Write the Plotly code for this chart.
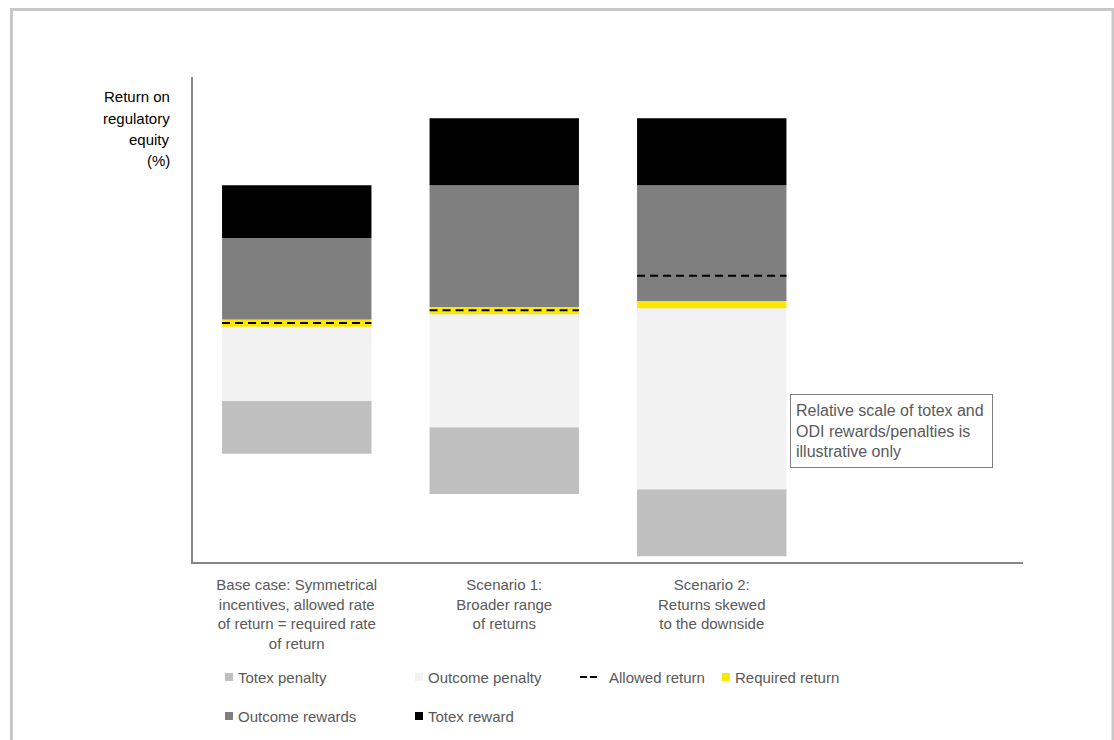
import plotly.graph_objects as go

# Illustrative return-on-equity ranges (arbitrary units, no scale shown)
scenarios = [
    "Base case: Symmetrical<br>incentives, allowed rate<br>of return = required rate<br>of return",
    "Scenario 1:<br>Broader range<br>of returns",
    "Scenario 2:<br>Returns skewed<br>to the downside",
]
floor_level = [22.3, 14.0, 1.2]          # bottom of each range
totex_penalty = [10.9, 13.8, 13.8]
outcome_penalty = [15.3, 23.3, 37.3]
required_return = [1.5, 1.5, 1.5]        # thin band marking the required return
outcome_rewards = [16.8, 25.1, 23.9]
totex_reward = [10.9, 13.8, 13.8]
allowed_return = [49.3, 51.9, 59.0]

y_title_lines = ["Return on", "regulatory", "equity", "(%)"]

series = [
    ("Totex penalty", totex_penalty, "#BFBFBF"),
    ("Outcome penalty", outcome_penalty, "#F2F2F2"),
    ("Required return", required_return, "#FFE600"),
    ("Outcome rewards", outcome_rewards, "#7F7F7F"),
    ("Totex reward", totex_reward, "#000000"),
]

BAR_W = 0.72
FONT = "Arial, Liberation Sans, sans-serif"
TXT = "#595959"

# plot-area geometry (pixels) used for layout decorations
W, H = 1114, 740
L, R, T, B = 193, 1023, 77, 562


def px(x):
    return (x - L) / (R - L)


def py(y):
    return (B - y) / (B - T)


xs = list(range(len(scenarios)))
fig = go.Figure()

bottom = list(floor_level)
for name, vals, color in series:
    fig.add_trace(go.Bar(
        x=xs, y=vals, base=list(bottom), width=BAR_W, name=name,
        marker=dict(color=color, line=dict(width=0)), showlegend=False,
        hoverinfo="name+y",
    ))
    bottom = [b + v for b, v in zip(bottom, vals)]

# allowed return: dashed line across each bar
lx, ly = [], []
for i, a in zip(xs, allowed_return):
    lx += [i - BAR_W / 2, i + BAR_W / 2, None]
    ly += [a, a, None]
fig.add_trace(go.Scatter(
    x=lx, y=ly, mode="lines", name="Allowed return", showlegend=False,
    line=dict(color="#000000", width=2, dash="8px,5px"),
))

shapes = []
annotations = []

# outer frame (open at the bottom)
fx0, fx1, fy = px(11.5), px(1113), py(9.5)
fyb = py(760)
shapes.append(dict(
    type="path", xref="paper", yref="paper",
    path=f"M {fx0},{fyb} L {fx0},{fy} L {fx1},{fy} L {fx1},{fyb}",
    line=dict(color="#C8C8C8", width=3),
))

# legend drawn as swatches + labels
legend_items = [
    ("Totex penalty", "box", "#BFBFBF", 225, 677),
    ("Outcome penalty", "box", "#F2F2F2", 415, 677),
    ("Allowed return", "dash", "#000000", 580, 677),
    ("Required return", "box", "#FFE600", 722, 677),
    ("Outcome rewards", "box", "#7F7F7F", 225, 716),
    ("Totex reward", "box", "#000000", 415, 716),
]
for name, kind, color, x0, yc in legend_items:
    if kind == "box":
        shapes.append(dict(
            type="rect", xref="paper", yref="paper",
            x0=px(x0), x1=px(x0 + 8), y0=py(yc - 4), y1=py(yc + 4),
            fillcolor=color, line=dict(width=0),
        ))
        tx = x0 + 11
    else:
        shapes.append(dict(
            type="line", xref="paper", yref="paper",
            x0=px(x0), x1=px(x0 + 18), y0=py(yc), y1=py(yc),
            line=dict(color=color, width=2, dash="7px,3px"),
        ))
        tx = x0 + 27
    annotations.append(dict(
        text=name, xref="paper", yref="paper", x=px(tx), y=py(yc),
        xanchor="left", yanchor="middle", showarrow=False,
        font=dict(family=FONT, size=15, color=TXT),
    ))

# y-axis title, one line per annotation for wider line spacing
for k, line in enumerate(y_title_lines):
    annotations.append(dict(
        text=line, xref="paper", yref="paper", x=px(172), y=py(97 + 21.3 * k),
        xanchor="right", yanchor="middle", showarrow=False,
        font=dict(family=FONT, size=15, color="#000000"),
    ))

# explanatory note
annotations.append(dict(
    text="Relative scale of totex and<br>ODI rewards/penalties is<br>illustrative only",
    xref="paper", yref="paper", x=px(790), y=py(394),
    xanchor="left", yanchor="top", align="left", valign="middle",
    width=191, height=62, borderpad=5, borderwidth=1, bordercolor="#7F7F7F",
    bgcolor="#FFFFFF", showarrow=False,
    font=dict(family=FONT, size=16, color=TXT),
))

fig.update_layout(
    width=W, height=H,
    margin=dict(l=L, r=W - R, t=T, b=H - B),
    paper_bgcolor="#FFFFFF", plot_bgcolor="#FFFFFF",
    barmode="overlay",
    showlegend=False,
    shapes=shapes, annotations=annotations,
    xaxis=dict(
        range=[-0.5, 3.5], tickvals=xs, ticktext=scenarios,
        showgrid=False, zeroline=False, showline=True,
        linecolor="#868686", linewidth=2, ticks="",
        tickfont=dict(family=FONT, size=15, color=TXT),
        ticklabelstandoff=8,
    ),
    yaxis=dict(
        range=[0, 100], showgrid=False, zeroline=False, showline=True,
        linecolor="#868686", linewidth=2, ticks="", showticklabels=False,
    ),
)

fig.write_html("out.html")
